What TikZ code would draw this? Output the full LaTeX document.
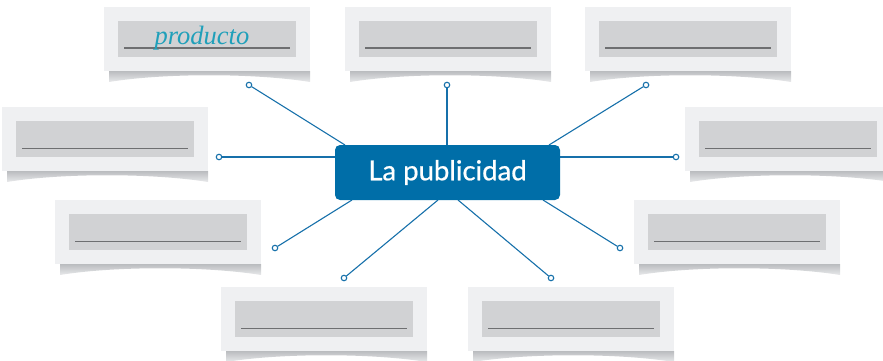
\documentclass[tikz,border=0pt]{standalone}
\usepackage{fontspec}
\setmainfont{Liberation Serif}
\newfontfamily\latofont[FakeBold=0.7]{Lato}
\definecolor{cardouter}{RGB}{239,240,242}
\definecolor{cardinner}{RGB}{209,210,212}
\definecolor{cardline}{RGB}{110,111,113}
\definecolor{shadowtop}{RGB}{186,188,191}
\definecolor{shadowbot}{RGB}{232,233,235}
\definecolor{pubblue}{RGB}{0,110,168}
\definecolor{lineblue}{RGB}{22,112,170}
\definecolor{tealtext}{RGB}{32,160,186}
\newcommand\mycard[3]{%
  \begin{scope}[shift={(#1,#2)}]
    \shade[top color=shadowtop, bottom color=shadowbot]
      (5,64) -- (206,64) -- (206,75) .. controls (150,66) and (60,66) .. (5,75) -- cycle;
    \fill[cardouter] (0,0) rectangle (206,64);
    \fill[cardinner] (14,14) rectangle (192,50);
    \draw[cardline, line width=#3] (20,41.5) -- (186,41.5);
  \end{scope}}
\begin{document}
\begin{tikzpicture}[x=1pt,y=-1pt,
  dot/.style={circle, draw=lineblue, fill=white, inner sep=0pt, minimum size=5.5pt, line width=1.1pt},
  conn/.style={draw=lineblue, line width=1.1pt},
  pub/.style={fill=pubblue, rounded corners=5pt, minimum width=225pt, minimum height=55pt, inner sep=0pt,
    text=white, font=\latofont\fontsize{27.5}{30}\selectfont},
  answer/.style={text=tealtext, font=\itshape\fontsize{26.5}{30}\selectfont, inner sep=0pt, anchor=base}]
\clip (0,0) rectangle (883,361);
% cards
\mycard{104}{7}{2pt}
\mycard{345}{7}{2pt}
\mycard{585}{7}{2pt}
\mycard{2}{107}{1.3pt}
\mycard{685}{107}{1.3pt}
\mycard{55}{200}{1.3pt}
\mycard{634}{200}{1.3pt}
\mycard{221}{287}{1.3pt}
\mycard{468}{287}{1.3pt}
\node[answer] (ans) at (202,45) {producto};
% end points on the central box
\coordinate (e1) at (345,145);
\coordinate (e2) at (447,145);
\coordinate (e3) at (549,145);
\coordinate (e4) at (335,157);
\coordinate (e5) at (560,157);
\coordinate (e6) at (352,200);
\coordinate (e7) at (438,200);
\coordinate (e8) at (458,200);
\coordinate (e9) at (543,200);
% circles
\node[dot] (c1) at (249,85) {};
\node[dot] (c2) at (447,85) {};
\node[dot] (c3) at (646,85) {};
\node[dot] (c4) at (219,157) {};
\node[dot] (c5) at (676,157) {};
\node[dot] (c6) at (275,248) {};
\node[dot] (c7) at (344,278) {};
\node[dot] (c8) at (551,278) {};
\node[dot] (c9) at (620,248) {};
\foreach \i in {1,...,9} {\draw[conn] (c\i) -- (e\i);}
\node[pub] (pub) at (447.5,172.5) {La publicidad};
\end{tikzpicture}
\end{document}
